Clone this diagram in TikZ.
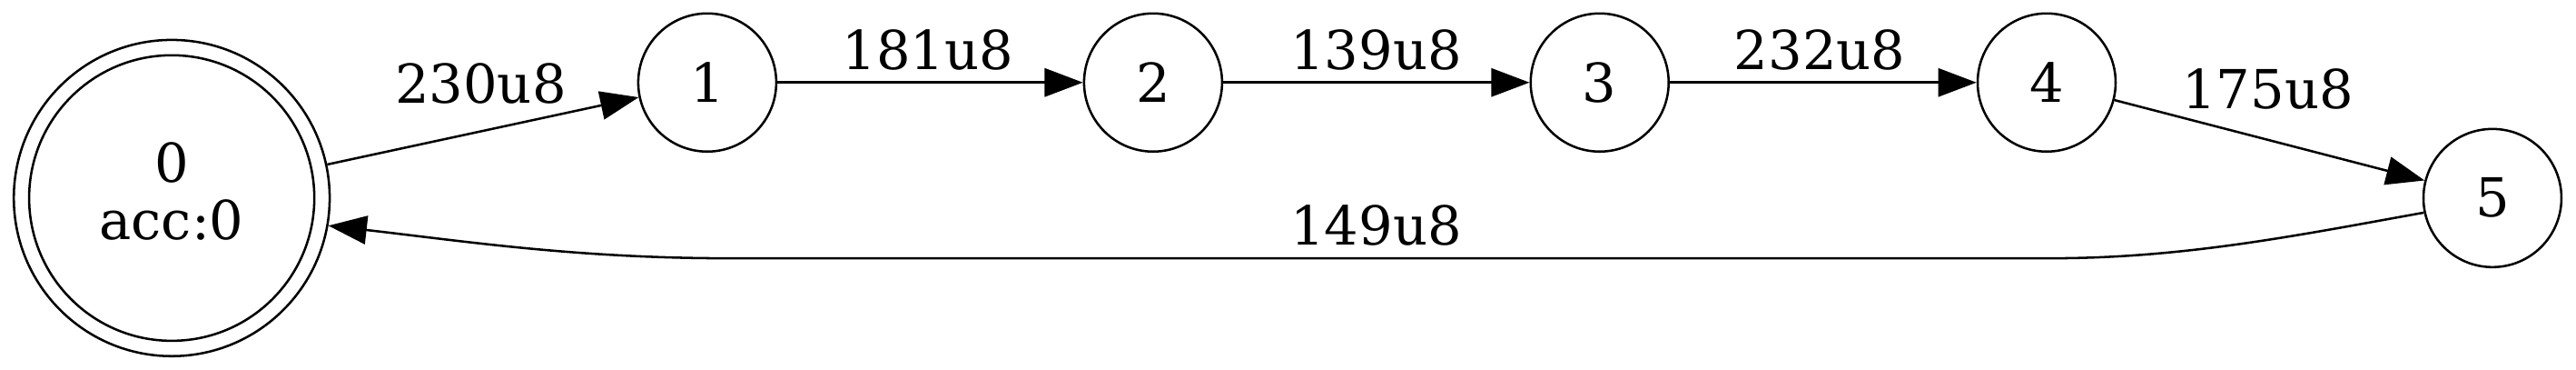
\documentclass[tikz,border=0pt]{standalone}
\usepackage{fontspec}
\setmainfont{DejaVu Serif}
\usetikzlibrary{arrows.meta}
\begin{document}
\begin{tikzpicture}[x=1pt,y=1pt,line width=0.6pt,
  state/.style={circle,draw,minimum size=36pt,inner sep=0pt,font=\fontsize{14pt}{14.9pt}\selectfont},
  elabel/.style={anchor=base,inner sep=0pt,font=\fontsize{14pt}{14.9pt}\selectfont},
  edge/.style={-{Triangle[length=10pt,width=7.4pt]}}]
\useasboundingbox (0,0) rectangle (672,96.2);
\node[state,minimum size=82.4pt,align=center] (n0) at (44.8,44.6) {0\\acc:0\rule[-3.5pt]{0pt}{0pt}};
\draw (n0.center) circle[radius=37.2pt];
\node[state] (n1) at (184.5,74.7) {1};
\node[state] (n2) at (300.8,74.7) {2};
\node[state] (n3) at (417.3,74.7) {3};
\node[state] (n4) at (533.9,74.7) {4};
\node[state] (n5) at (650.2,44.6) {5};
\draw[edge] (n0) -- (n1);
\draw[edge] (n1) -- (n2);
\draw[edge] (n2) -- (n3);
\draw[edge] (n3) -- (n4);
\draw[edge] (n4) -- (n5);
\draw[edge] (n5.192) .. controls (600,35) and (570,28.9) .. (535,28.9) -- (190,28.9) .. controls (150,28.9) and (120,33.5) .. (n0.350);
\node[elabel] (l01) at (125.4,69.2) {230u8};
\node[elabel] (l12) at (242,78) {181u8};
\node[elabel] (l23) at (359,78) {139u8};
\node[elabel] (l34) at (474.7,78) {232u8};
\node[elabel] (l45) at (591.6,68) {175u8};
\node[elabel] (l50) at (359,32.4) {149u8};
\end{tikzpicture}
\end{document}
